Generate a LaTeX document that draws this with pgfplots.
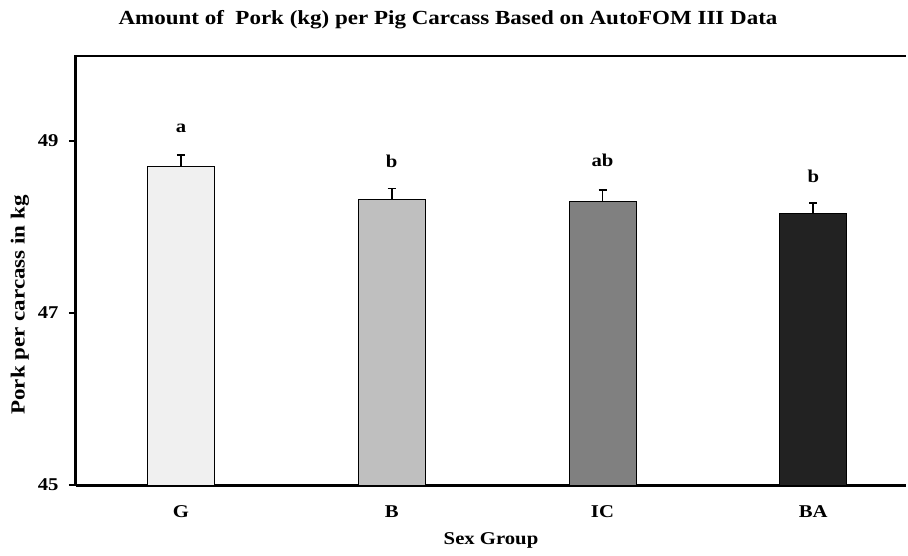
\documentclass[border=0pt]{standalone}
\usepackage{pgfplots}
\pgfplotsset{compat=1.18}
\usepackage{fontspec}
\setmainfont{Liberation Serif}[FakeStretch=1.15]
\definecolor{cG}{HTML}{F0F0F0}
\definecolor{cB}{HTML}{BFBFBF}
\definecolor{cIC}{HTML}{808080}
\definecolor{cBA}{HTML}{222222}
\begin{document}
\begin{tikzpicture}[x=1pt,y=1pt]
\useasboundingbox (0,0) rectangle (908,555);
\begin{axis}[
  at={(76pt,70pt)}, anchor=south west,
  width=830pt, height=430pt, scale only axis,
  xmin=-0.498, xmax=3.44, ymin=45, ymax=50,
  axis x line*=bottom, axis y line*=left,
  axis line style={line width=3pt},
  ytick={45,47,49}, xtick={0,1,2,3}, xticklabels={G,B,IC,BA},
  x tick style={draw=none},
  y tick style={line width=2pt, black},
  tick align=outside, major tick length=7pt,
  ticklabel style={font=\bfseries\fontsize{18}{21}\selectfont},
  /pgf/number format/assume math mode=true,
  xticklabel style={yshift=-10pt},
  yticklabel style={xshift=-7pt},
  error bars/y dir=plus, error bars/y explicit,
  error bars/error bar style={line width=1.6pt, black},
  error bars/error mark options={rotate=90, mark size=4pt, line width=1.6pt, black},
]
\addplot[ybar, bar shift=0pt, bar width=67pt, fill=cG, draw=black, line width=0.8pt] coordinates {(0,48.71) +- (0,0.125)};
\addplot[ybar, bar shift=0pt, bar width=67pt, fill=cB, draw=black, line width=0.8pt] coordinates {(1,48.32) +- (0,0.13)};
\addplot[ybar, bar shift=0pt, bar width=67pt, fill=cIC, draw=black, line width=0.8pt] coordinates {(2,48.30) +- (0,0.13)};
\addplot[ybar, bar shift=0pt, bar width=67pt, fill=cBA, draw=black, line width=0.8pt] coordinates {(3,48.16) +- (0,0.12)};
\draw[line width=3pt] (rel axis cs:0,1) -- (rel axis cs:1,1);
\node[font=\bfseries\fontsize{18}{21}\selectfont, yshift=27pt] at (axis cs:0,48.835) {a};
\node[font=\bfseries\fontsize{18}{21}\selectfont, yshift=27pt] at (axis cs:1,48.45) {b};
\node[font=\bfseries\fontsize{18}{21}\selectfont, yshift=30pt] at (axis cs:2,48.43) {ab};
\node[font=\bfseries\fontsize{18}{21}\selectfont, yshift=27pt] at (axis cs:3,48.28) {b};
\end{axis}
\node[font=\bfseries\fontsize{18}{21}\selectfont] at (491,15) {Sex Group};
\node[font=\bfseries\fontsize{20}{23}\selectfont, rotate=90] at (20,250) {Pork per carcass in kg};
\node[font=\bfseries\fontsize{20}{23}\selectfont] at (448,535) {Amount of\ \ Pork (kg) per Pig Carcass Based on AutoFOM III Data};
\end{tikzpicture}
\end{document}
